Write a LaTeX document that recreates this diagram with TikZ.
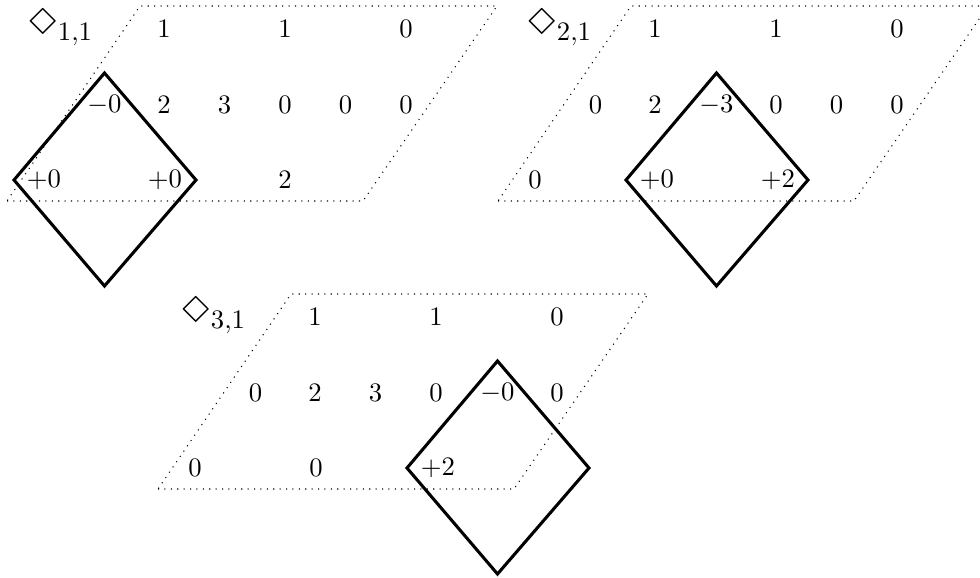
\documentclass[tikz,border=0pt]{standalone}
\usepackage{latexsym}
\begin{document}
\begin{tikzpicture}[x=0.375pt,y=-0.375pt,
  num/.style={inner sep=0pt, anchor=center},
  frame/.style={dotted, line width=0.4pt},
  rhomb/.style={line width=1.15pt, line join=miter},
  lab/.style={anchor=base west, inner sep=0pt, font=\Large}]
\useasboundingbox (0,0) rectangle (980,578);

% ---------- panel 1 ----------
\begin{scope}
  \coordinate (p1a) at (7,201);
  \coordinate (p1b) at (363,201);
  \coordinate (p1c) at (497,6);
  \coordinate (p1d) at (140,6);
  \draw[frame] (p1a) -- (p1b) -- (p1c) -- (p1d) -- cycle;
  \node[lab] (p1lab) at (27,34.5) {$\Diamond_{1,1}$};
  \node[num] (p1r1a) at (164,29) {$1$};
  \node[num] (p1r1b) at (285,29) {$1$};
  \node[num] (p1r1c) at (406,29) {$0$};
  \node[num] (p1r2a) at (104.5,105) {$-0$};
  \node[num] (p1r2b) at (164,105) {$2$};
  \node[num] (p1r2c) at (224.5,105) {$3$};
  \node[num] (p1r2d) at (285,105) {$0$};
  \node[num] (p1r2e) at (345.5,105) {$0$};
  \node[num] (p1r2f) at (406,105) {$0$};
  \node[num] (p1r3a) at (44,180) {$+0$};
  \node[num] (p1r3b) at (165,180) {$+0$};
  \node[num] (p1r3c) at (285,180) {$2$};
  \coordinate (p1t) at (104.5,73);
  \coordinate (p1l) at (14,180);
  \coordinate (p1b2) at (104.5,286);
  \coordinate (p1r) at (196,180);
  \draw[rhomb] (p1t) -- (p1r) -- (p1b2) -- (p1l) -- cycle;
\end{scope}

% ---------- panel 2 ----------
\begin{scope}[shift={(491,0)}]
  \coordinate (p2a) at (7,201);
  \coordinate (p2b) at (363,201);
  \coordinate (p2c) at (497,6);
  \coordinate (p2d) at (140,6);
  \draw[frame] (p2a) -- (p2b) -- (p2c) -- (p2d) -- cycle;
  \node[lab] (p2lab) at (35,34.5) {$\Diamond_{2,1}$};
  \node[num] (p2r1a) at (164,29) {$1$};
  \node[num] (p2r1b) at (285,29) {$1$};
  \node[num] (p2r1c) at (406,29) {$0$};
  \node[num] (p2r2a) at (104.5,105) {$0$};
  \node[num] (p2r2b) at (164,105) {$2$};
  \node[num] (p2r2c) at (225.5,105) {$-3$};
  \node[num] (p2r2d) at (285,105) {$0$};
  \node[num] (p2r2e) at (345.5,105) {$0$};
  \node[num] (p2r2f) at (406,105) {$0$};
  \node[num] (p2r3a) at (44,180) {$0$};
  \node[num] (p2r3b) at (166,180) {$+0$};
  \node[num] (p2r3c) at (287,180) {$+2$};
  \coordinate (p2t) at (225.5,73);
  \coordinate (p2l) at (135,180);
  \coordinate (p2b2) at (225.5,286);
  \coordinate (p2r) at (317,180);
  \draw[rhomb] (p2t) -- (p2r) -- (p2b2) -- (p2l) -- cycle;
\end{scope}

% ---------- panel 3 ----------
\begin{scope}[shift={(151,288)}]
  \coordinate (p3a) at (7,201);
  \coordinate (p3b) at (363,201);
  \coordinate (p3c) at (497,6);
  \coordinate (p3d) at (140,6);
  \draw[frame] (p3a) -- (p3b) -- (p3c) -- (p3d) -- cycle;
  \node[lab] (p3lab) at (29,34.5) {$\Diamond_{3,1}$};
  \node[num] (p3r1a) at (164,29) {$1$};
  \node[num] (p3r1b) at (285,29) {$1$};
  \node[num] (p3r1c) at (406,29) {$0$};
  \node[num] (p3r2a) at (104.5,105) {$0$};
  \node[num] (p3r2b) at (164,105) {$2$};
  \node[num] (p3r2c) at (224.5,105) {$3$};
  \node[num] (p3r2d) at (285,105) {$0$};
  \node[num] (p3r2e) at (346.5,105) {$-0$};
  \node[num] (p3r2f) at (406,105) {$0$};
  \node[num] (p3r3a) at (44,180) {$0$};
  \node[num] (p3r3b) at (165,180) {$0$};
  \node[num] (p3r3c) at (287,180) {$+2$};
  \coordinate (p3t) at (346.5,73);
  \coordinate (p3l) at (256,180);
  \coordinate (p3b2) at (346.5,286);
  \coordinate (p3r) at (438,180);
  \draw[rhomb] (p3t) -- (p3r) -- (p3b2) -- (p3l) -- cycle;
\end{scope}
\end{tikzpicture}
\end{document}
